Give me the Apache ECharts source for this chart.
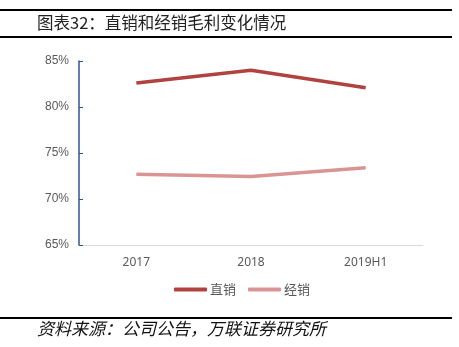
<!DOCTYPE html>
<html><head><meta charset="utf-8">
<script src="https://cdn.jsdelivr.net/npm/echarts@6/dist/echarts.min.js"></script>
<style>html,body{margin:0;padding:0;background:#fff}#c{width:459px;height:347px}</style>
</head><body><div id="c"></div>
<script>
const categories = ['2017', '2018', '2019H1'];
const directSales = [82.6, 84.0, 82.1];
const distribution = [72.7, 72.45, 73.4];
const seriesNames = ['直销', '经销'];
const titleText = '图表32：直销和经销毛利变化情况';
const sourceText = '资料来源：公司公告，万联证券研究所';

const chart = echarts.init(document.getElementById('c'), null, {renderer: 'canvas'});
chart.setOption({
  animation: false,
  backgroundColor: '#fff',
  grid: {left: 79, right: 36, top: 61, bottom: 102},
  legend: {
    data: seriesNames, bottom: 46, left: 169, itemWidth: 33, itemHeight: 4, itemGap: 12,
    icon: 'roundRect',
    textStyle: {color: '#595959', fontSize: 13, fontFamily: 'Noto Sans CJK SC', padding: [0, 0, 0, -2]}
  },
  xAxis: {
    type: 'category', data: categories, boundaryGap: true,
    axisLine: {lineStyle: {color: '#D9D9D9', width: 1}},
    axisTick: {show: false},
    axisLabel: {color: '#595959', fontSize: 12, margin: 12, fontFamily: 'Noto Sans'}
  },
  yAxis: {
    type: 'value', min: 65, max: 85, interval: 5,
    axisLine: {show: true, lineStyle: {color: '#2F5597', width: 1.5}},
    axisTick: {show: true, inside: true, length: 4, lineStyle: {color: '#2F5597'}},
    splitLine: {show: false},
    axisLabel: {formatter: v => v + '%', color: '#595959', fontSize: 12, margin: 10, fontFamily: 'Liberation Sans'}
  },
  series: [
    {name: seriesNames[0], type: 'line', data: directSales, symbol: 'none',
     lineStyle: {color: '#B04240', width: 3.5}, itemStyle: {color: '#B04240'}},
    {name: seriesNames[1], type: 'line', data: distribution, symbol: 'none',
     lineStyle: {color: '#D99594', width: 3.5}, itemStyle: {color: '#D99594'}}
  ],
  graphic: [
    {type: 'rect', shape: {x: 0, y: 9, width: 452, height: 2}, style: {fill: '#000'}},
    {type: 'text', left: 37, top: 14, style: {text: titleText, fontSize: 16.5, fill: '#222', fontFamily: 'Noto Sans CJK SC'}},
    {type: 'rect', shape: {x: 0, y: 36, width: 452, height: 2}, style: {fill: '#000'}},
    {type: 'rect', shape: {x: 0, y: 317, width: 452, height: 2}, style: {fill: '#000'}},
    {type: 'text', left: 37, top: 320, style: {text: sourceText, fontSize: 17, fontStyle: 'italic', fill: '#111', fontFamily: 'Noto Sans CJK SC'}}
  ]
});
</script></body></html>
